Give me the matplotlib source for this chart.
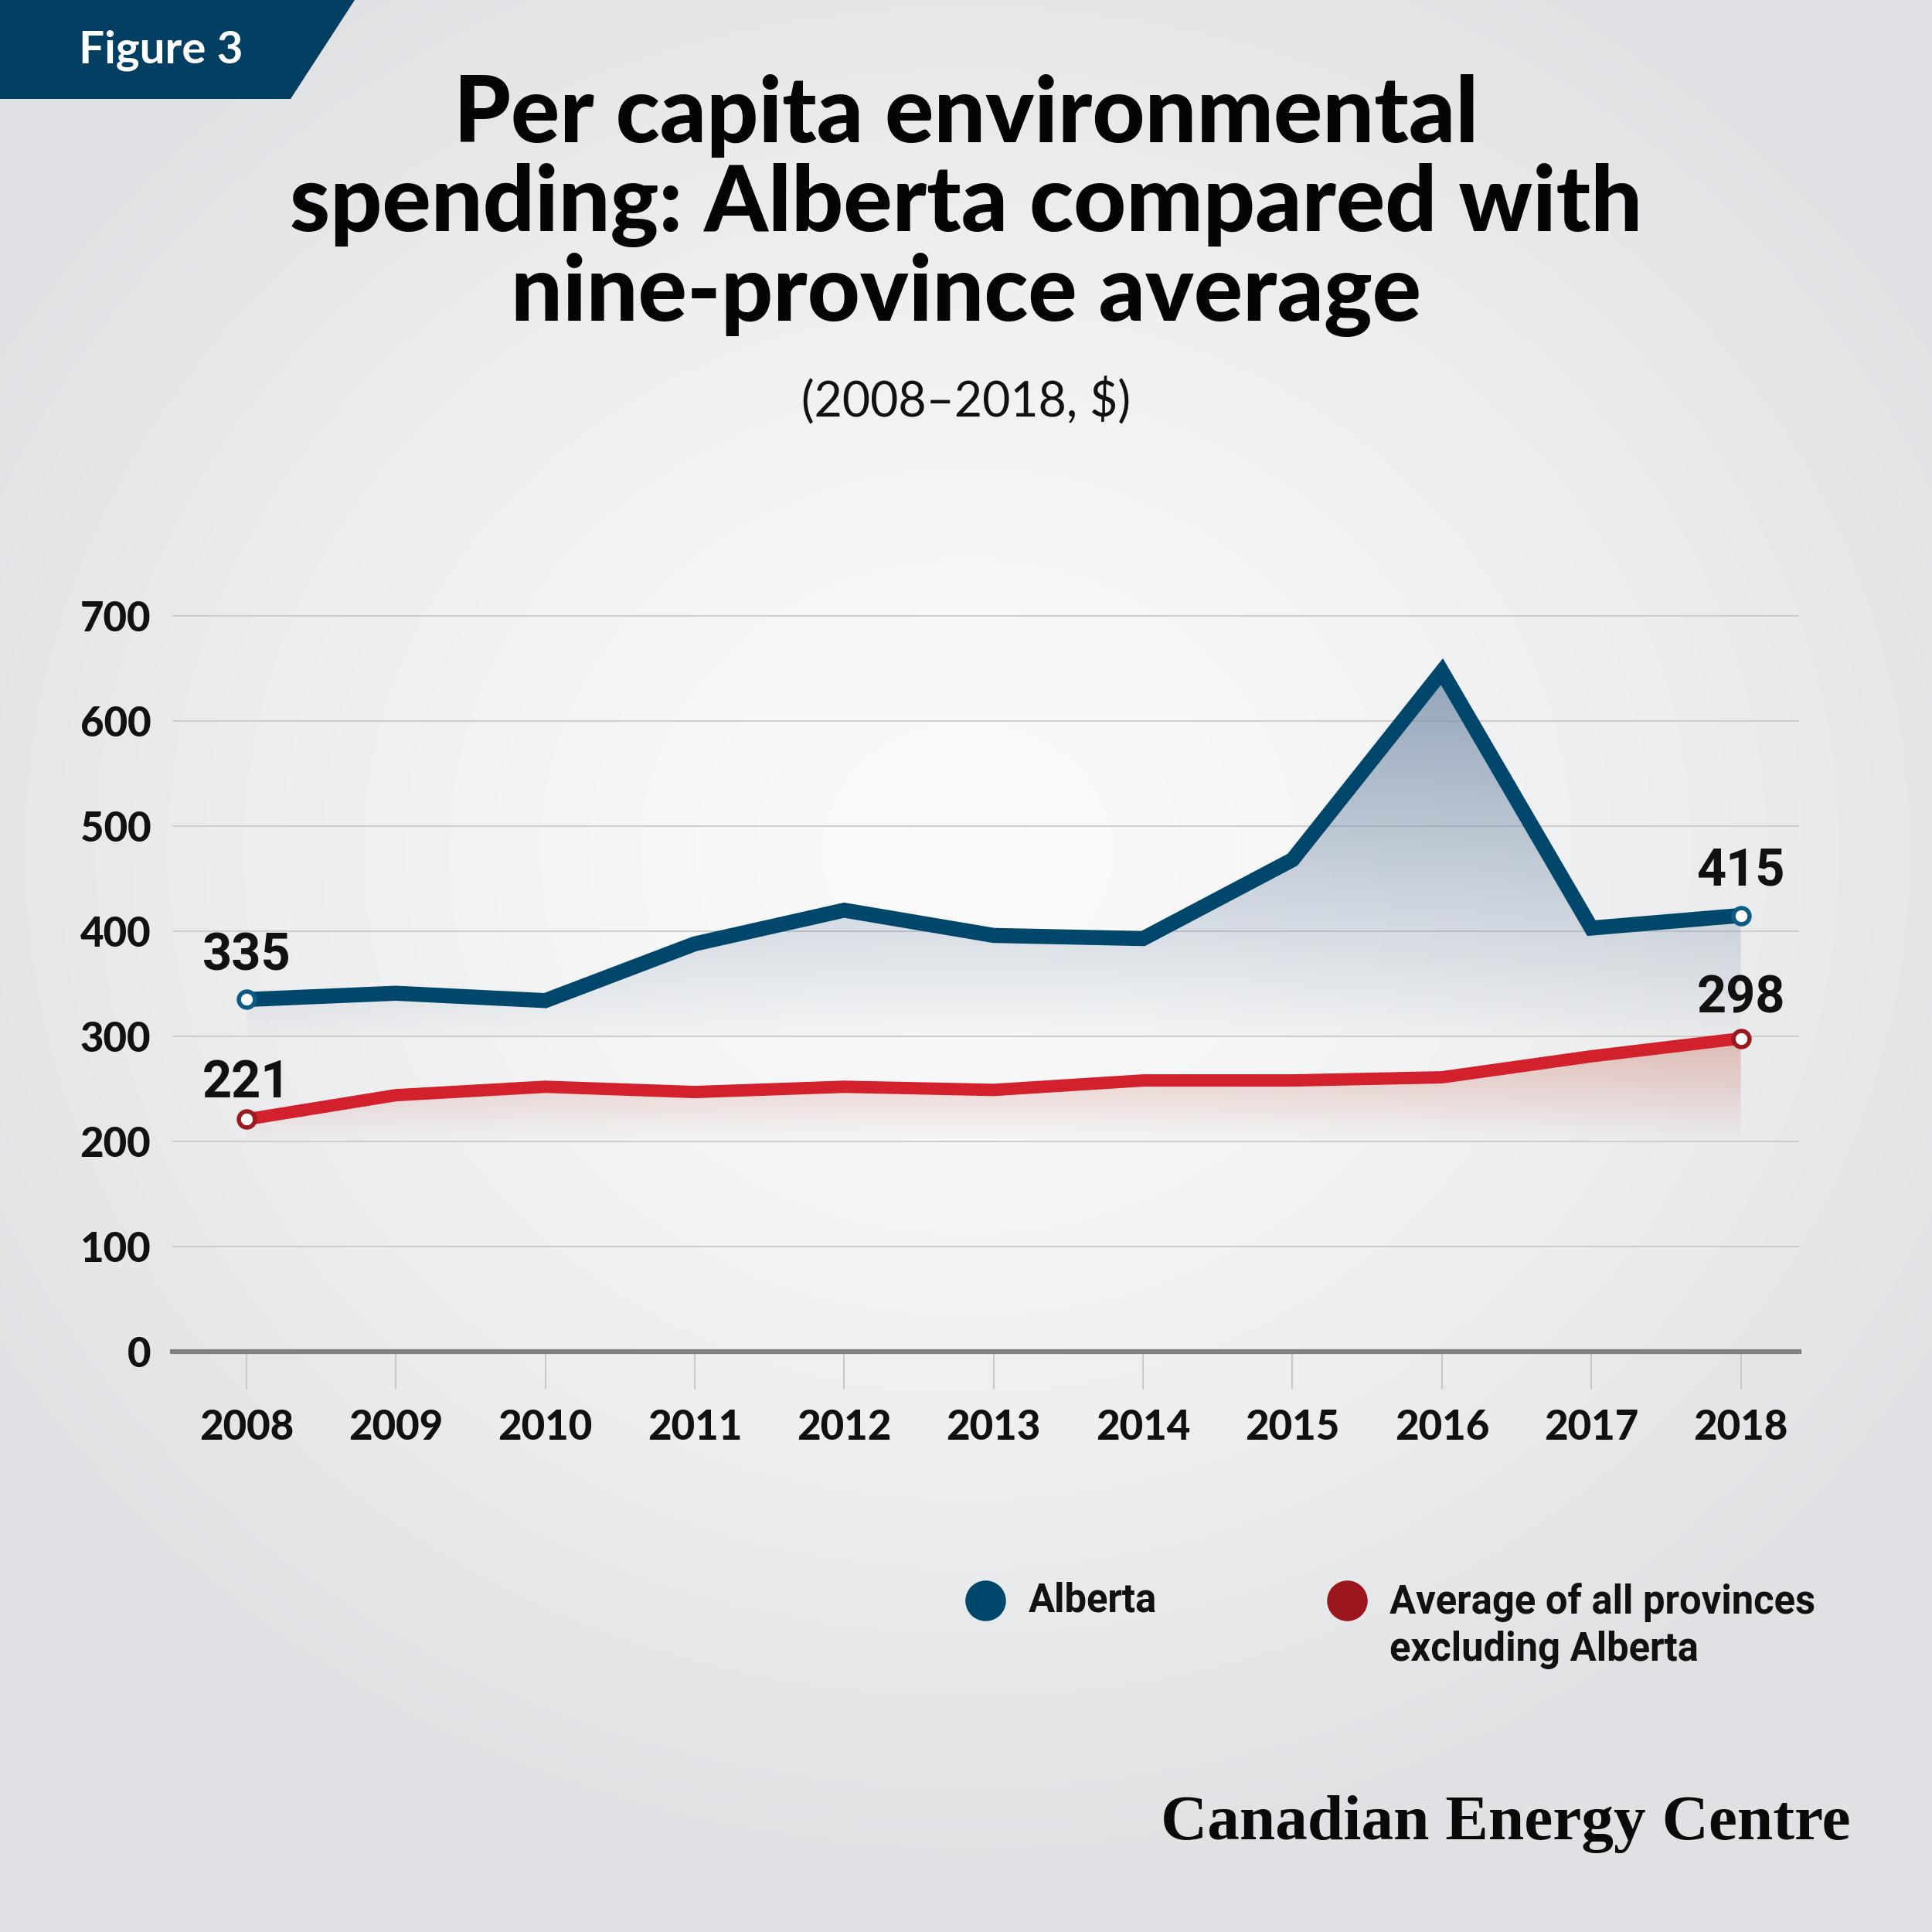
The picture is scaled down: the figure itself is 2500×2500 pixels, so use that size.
import numpy as np
import matplotlib
matplotlib.use("Agg")
import matplotlib.pyplot as plt
from matplotlib.patches import Polygon

# ---------------- data ----------------
years = [2008, 2009, 2010, 2011, 2012, 2013, 2014, 2015, 2016, 2017, 2018]
alberta = [335, 341, 334, 388, 420, 396, 393, 468, 647, 403, 415]
avg_excl_ab = [221, 244, 252, 247, 252, 249, 258, 258, 261, 281, 298]
y_ticks = [0, 100, 200, 300, 400, 500, 600, 700]
label_first = {"Alberta": "335", "Average": "221"}
label_last = {"Alberta": "415", "Average": "298"}

title_lines = ["Per capita environmental",
               "spending: Alberta compared with",
               "nine-province average"]
subtitle = "(2008\u20132018, $)"
legend_labels = ["Alberta", "Average of all provinces\nexcluding Alberta"]

BLUE = "#00476b"
BLUE_MK = "#0d5a86"
RED = "#d2202c"
RED_MK = "#9a1a20"
RED_LEG = "#9b161d"

W = H = 2500
fig = plt.figure(figsize=(25, 25), dpi=100)

def fx(px):
    return px / W

def fy(py):
    return 1 - py / H

# ---------------- background radial gradient ----------------
bg = fig.add_axes([0, 0, 1, 1], zorder=-10)
gy, gx = np.mgrid[0:H:4, 0:W:4]
r = np.sqrt(((gx - 1250) / 1450.0) ** 2 + ((gy - 1100) / 1300.0) ** 2)
r = np.clip(r, 0, 1) ** 1.4
center = np.array([0.982, 0.982, 0.982])
edge = np.array([0.880, 0.885, 0.895])
img = center[None, None, :] + (edge - center)[None, None, :] * r[..., None]
bg.imshow(img, extent=[0, W, H, 0], aspect="auto", interpolation="bilinear")
bg.set_xlim(0, W)
bg.set_ylim(H, 0)
bg.axis("off")

# banner
bg.add_patch(Polygon([(0, 0), (459, 0), (376, 128), (0, 128)], closed=True,
                     facecolor="#033f63", edgecolor="none", zorder=2))

# ---------------- main axes ----------------
ymax = 710
px_per_unit = (1749 - 797) / 700.0
top_px = 1749 - ymax * px_per_unit
ax = fig.add_axes([fx(223), fy(1749), fx(2328 - 223), (1749 - top_px) / H])
ax.set_facecolor("none")

# gradient fills
def gradient_fill(xs, ys, base, y_low, y_high, rgb, a_top, a_bottom=0.0):
    verts = [(xs[0], base)] + list(zip(xs, ys)) + [(xs[-1], base)]
    patch = Polygon(verts, closed=True, facecolor="none", edgecolor="none",
                    transform=ax.transData)
    ax.add_patch(patch)
    n = 256
    alpha = a_bottom + np.linspace(0, 1, n) * (a_top - a_bottom)
    arr = np.zeros((n, 2, 4))
    arr[..., 0] = rgb[0]
    arr[..., 1] = rgb[1]
    arr[..., 2] = rgb[2]
    arr[..., 3] = alpha[:, None]
    im = ax.imshow(arr, extent=[xs[0], xs[-1], y_low, y_high], origin="lower",
                   aspect="auto", zorder=1, interpolation="bilinear")
    im.set_clip_path(patch)

gradient_fill(years, alberta, 300, 300, 660, (0.47, 0.56, 0.67), 0.80, 0.03)
gradient_fill(years, avg_excl_ab, 200, 200, 305, (0.82, 0.55, 0.50), 0.55)

# grid
for yv in y_ticks[1:]:
    ax.axhline(yv, color="#c9c9c9", lw=1.3, zorder=0.5)

ax.plot(years, alberta, color=BLUE, lw=14, solid_joinstyle="miter",
        solid_capstyle="butt", zorder=4)
ax.plot(years, avg_excl_ab, color=RED, lw=11.5, solid_joinstyle="miter",
        solid_capstyle="butt", zorder=3)

for series, mk in ((alberta, BLUE_MK), (avg_excl_ab, RED_MK)):
    ax.plot([years[0], years[-1]], [series[0], series[-1]], ls="none",
            marker="o", ms=15, mfc="white", mec=mk, mew=4, zorder=5)

lab_font = dict(family="Roboto", weight="bold", fontsize=48, color="#111111",
                ha="center", va="center", zorder=6)
ax.text(years[0], alberta[0] + 41, label_first["Alberta"], **lab_font)
ax.text(years[0], avg_excl_ab[0] + 34, label_first["Average"], **lab_font)
ax.text(years[-1], alberta[-1] + 42, label_last["Alberta"], **lab_font)
ax.text(years[-1], avg_excl_ab[-1] + 38, label_last["Average"], **lab_font)

ax.set_xlim(2007.504, 2018.39)
ax.set_ylim(0, ymax)

for s in ("top", "right", "left"):
    ax.spines[s].set_visible(False)
ax.spines["bottom"].set_color("#808080")
ax.spines["bottom"].set_linewidth(4.5)
ax.spines["bottom"].set_zorder(6)

ax.set_xticks(years)
ax.set_xticklabels([str(y) for y in years])
ax.set_yticks(y_ticks)
ax.set_yticklabels([str(v) for v in y_ticks])
ax.tick_params(axis="x", length=35, width=1.5, color="#c9c9c9", pad=18,
               labelsize=38, direction="out")
ax.tick_params(axis="y", length=0, pad=20, labelsize=38)
for lbl in ax.get_xticklabels() + ax.get_yticklabels():
    lbl.set_fontfamily("Lato")
    lbl.set_fontweight("black")
    lbl.set_color("#111111")

# ---------------- texts ----------------
fig.text(fx(208), fy(65), "Figure 3", family="Lato", weight="bold",
         fontsize=42, color="white", ha="center", va="center")

title_y = [150, 265, 382]
for t, yy in zip(title_lines, title_y):
    fig.text(0.5, fy(yy), t, family="Lato", weight="black", fontsize=85,
             color="#050505", ha="center", va="center")

fig.text(0.5, fy(518), subtitle, family="Lato", weight="normal", fontsize=45,
         color="#111111", ha="center", va="center")

# legend
leg_y = 2071
bg.scatter([1275], [leg_y], s=51 ** 2 * 0.52, color=BLUE, zorder=3)
bg.scatter([1743], [leg_y], s=51 ** 2 * 0.52, color=RED_LEG, zorder=3)
fig.text(fx(1331), fy(leg_y), legend_labels[0], family="Roboto", weight="bold",
         fontsize=36.5, color="#111111", ha="left", va="center")
for i, line in enumerate(legend_labels[1].split("\n")):
    fig.text(fx(1798), fy(2074 + 61 * i), line, family="Roboto",
             weight="bold", fontsize=36.5, color="#111111", ha="left",
             va="center")

fig.text(fx(2395), fy(2361), "Canadian Energy Centre", family="Liberation Serif",
         weight="bold", fontsize=60, color="#0a0a0a", ha="right", va="center")

fig.savefig("out.png", dpi=100)
